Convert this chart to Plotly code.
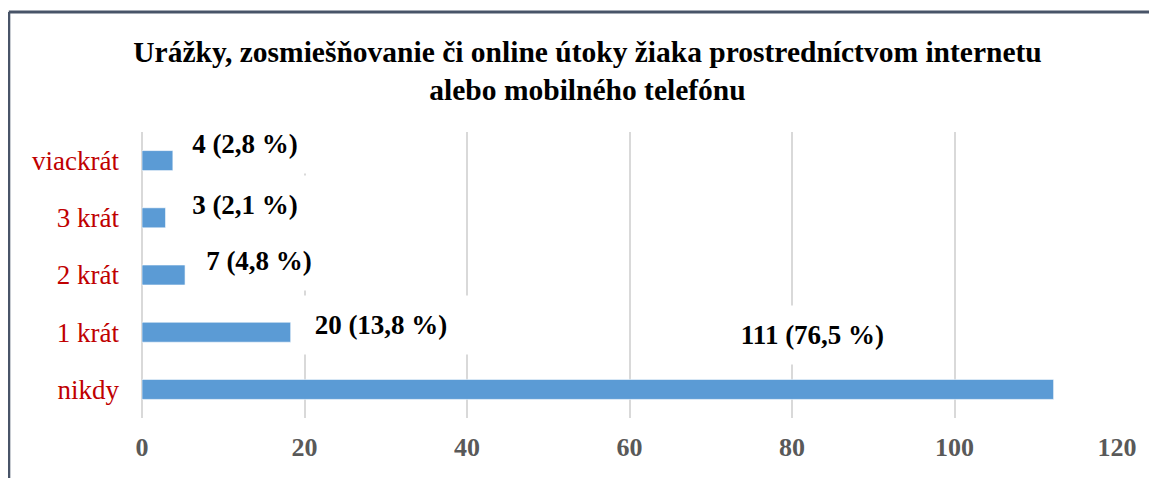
import plotly.graph_objects as go

# ---- data ----
categories = ["nikdy", "1 krát", "2 krát", "3 krát", "viackrát"]
bar_values = [112.2, 18.3, 5.3, 2.9, 3.8]          # bar lengths as drawn
label_texts = ["111 (76,5 %)", "20 (13,8 %)", "7 (4,8 %)", "3 (2,1 %)", "4 (2,8 %)"]
x_ticks = [0, 20, 40, 60, 80, 100, 120]
title_text = ("Urážky, zosmiešňovanie či online útoky žiaka prostredníctvom internetu"
              "<br>alebo mobilného telefónu")

# ---- label placement (layout only) ----
label_x = [82.5, 29.4, 14.4, 12.7, 12.7]    # data units, box centres
label_yshift = [54, 7, 14, 13, 17]
label_width = [175, 174, 132, 132, 132]

SERIF = "Liberation Serif, Times New Roman, serif"

# page body has an 8px margin; figure is sized to fill the rest of the window
W, H = 1149, 470
ML, MR, MT, MB = 134, 40, 124, 60

fig = go.Figure()
fig.add_trace(go.Bar(
    x=bar_values, y=categories, orientation="h",
    marker=dict(color="#5B9BD5", line=dict(color="#FFFFFF", width=0.6)),
    hoverinfo="skip", showlegend=False,
))

for txt, xv, cat, ys, w in zip(label_texts, label_x, categories, label_yshift, label_width):
    fig.add_annotation(
        x=xv, y=cat, xref="x", yref="y", text=f"<b>{txt}</b>",
        showarrow=False, xanchor="center", yanchor="middle", yshift=ys,
        width=w, height=58, align="center", bgcolor="white", borderpad=0,
        font=dict(family=SERIF, size=27, color="#000000"),
    )

# chart border (left & top edges visible)
pw, ph = W - ML - MR, H - MT - MB
x_left = (0.8 - ML) / pw
y_top = (H - MB - 4) / ph
fig.add_shape(type="line", xref="paper", yref="paper",
              x0=x_left, x1=x_left, y0=y_top, y1=-0.4,
              line=dict(color="#485468", width=3))
fig.add_shape(type="line", xref="paper", yref="paper",
              x0=x_left, x1=1.2, y0=y_top, y1=y_top,
              line=dict(color="#485468", width=3))

fig.update_layout(
    width=W, height=H, autosize=False,
    margin=dict(l=ML, r=MR, t=MT, b=MB, autoexpand=False),
    paper_bgcolor="white", plot_bgcolor="white",
    bargap=0.65,
    title=dict(text=f"<b>{title_text}</b>", x=579.5 / W, xanchor="center",
               xref="container", y=1 - 54 / H, yanchor="middle", yref="container",
               automargin=False,
               font=dict(family=SERIF, size=29.5, color="#000000")),
    xaxis=dict(range=[0, 120], tickvals=x_ticks, ticktext=[f"<b>{t}</b>" for t in x_ticks],
               showgrid=True, gridcolor="#D9D9D9", gridwidth=1.5, automargin=False,
               zeroline=True, zerolinecolor="#D9D9D9", zerolinewidth=1.5,
               showline=False, ticks="", ticklabelstandoff=11,
               tickfont=dict(family=SERIF, size=26, color="#595959")),
    yaxis=dict(categoryorder="array", categoryarray=categories, range=[-0.5, 4.5],
               showgrid=False, zeroline=False, showline=False, ticks="",
               ticklabelstandoff=22, automargin=False,
               tickfont=dict(family=SERIF, size=27, color="#C00000")),
)

fig.write_html("out.html")
